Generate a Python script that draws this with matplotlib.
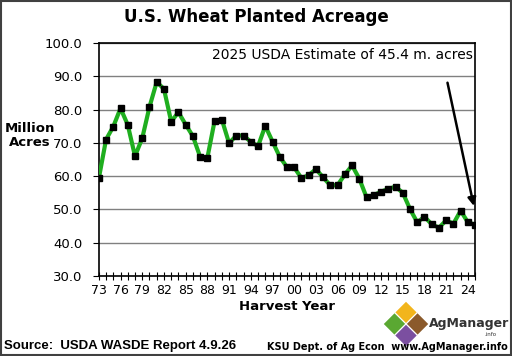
import matplotlib
matplotlib.use("Agg")
import matplotlib.pyplot as plt
from matplotlib.patches import Polygon, Rectangle

# ---------------- data (million acres planted) ----------------
years = list(range(1973, 2026))
acres = [59.3, 71.0, 74.9, 80.4, 75.4, 66.0, 71.4, 80.8, 88.3, 86.2,
         76.4, 79.2, 75.5, 72.0, 65.8, 65.5, 76.6, 77.0, 69.9, 72.2,
         72.2, 70.3, 69.0, 75.1, 70.4, 65.8, 62.7, 62.6, 59.4, 60.3,
         62.1, 59.6, 57.2, 57.3, 60.5, 63.2, 59.2, 53.6, 54.3, 55.3,
         56.2, 56.8, 55.0, 50.1, 46.1, 47.8, 45.5, 44.5, 46.7, 45.7,
         49.6, 46.1, 45.4]
label_years = list(range(1973, 2025, 3))
tick_labels = ["%02d" % (y % 100) for y in label_years]
# --------------------------------------------------------------

fig = plt.figure(figsize=(5.12, 3.56), dpi=100)
ax = fig.add_axes([0.193, 0.225, 0.735, 0.654])

ax.plot(years, acres, color="#1fae1f", lw=3, zorder=3)
ax.plot(years, acres, ls="none", marker="s", ms=4.6, color="black", zorder=4)

ax.set_xlim(1973, 2025)
ax.set_ylim(30, 100)
ax.set_yticks(range(30, 101, 10))
ax.set_yticklabels(["%.1f" % v for v in range(30, 101, 10)], fontsize=9.5)
ax.set_xticks(years, minor=True)
ax.set_xticks(label_years)
ax.set_xticklabels(tick_labels, fontsize=9)
ax.tick_params(axis="x", which="both", direction="inout", length=6, width=0.8, pad=3)
ax.tick_params(axis="y", direction="out", length=4, pad=8)
ax.yaxis.grid(True, color="#808080", lw=1)
ax.set_axisbelow(True)
for s in ax.spines.values():
    s.set_linewidth(1.2)

ax.set_xlabel("Harvest Year", fontsize=9.5, fontweight="bold", labelpad=2)
fig.text(0.058, 0.618, "Million\nAcres", fontsize=9.5, fontweight="bold",
         ha="center", va="center", linespacing=1.1)
fig.text(0.5, 0.952, "U.S. Wheat Planted Acreage", fontsize=12,
         fontweight="bold", ha="center", va="center")

ax.text(2024.7, 96.3, "2025 USDA Estimate of 45.4 m. acres", fontsize=10,
        ha="right", va="center")
ax.annotate("", xy=(2024.9, 50.2), xytext=(2021.1, 88.9),
            arrowprops=dict(arrowstyle="-|>", color="black", lw=1.8,
                            mutation_scale=12))

# footer
fig.text(0.008, 0.028, "Source:  USDA WASDE Report 4.9.26", fontsize=9.5,
         fontweight="bold", family="Liberation Sans", ha="left", va="center")
fig.text(0.992, 0.025, "KSU Dept. of Ag Econ  www.AgManager.info", fontsize=7,
         fontweight="bold", ha="right", va="center")

# AgManager logo (simple diamonds)
cx, cy, r = 406 / 512, 1 - 324 / 356, 11.5 / 512
ry = 11.5 / 356
def diamond(x, y, c):
    fig.patches.append(Polygon([[x, y + ry], [x + r, y], [x, y - ry], [x - r, y]],
                               closed=True, transform=fig.transFigure,
                               facecolor=c, edgecolor="white", lw=0.8))
diamond(cx, cy + ry, "#f2b51c")
diamond(cx - r, cy, "#5aa832")
diamond(cx + r, cy, "#8b5a2b")
diamond(cx, cy - ry, "#7b4fa0")
fig.text(429 / 512, 1 - 323 / 356, "AgManager", fontsize=9, fontweight="bold",
         color="#333333", ha="left", va="center")
fig.text(497 / 512, 1 - 334 / 356, ".info", fontsize=4, color="#333333",
         ha="right", va="center")

fig.patches.append(Rectangle((0.002, 0.003), 0.996, 0.994, transform=fig.transFigure,
                             fill=False, edgecolor="#404040", lw=1.5))

fig.savefig("out.png", dpi=100)
